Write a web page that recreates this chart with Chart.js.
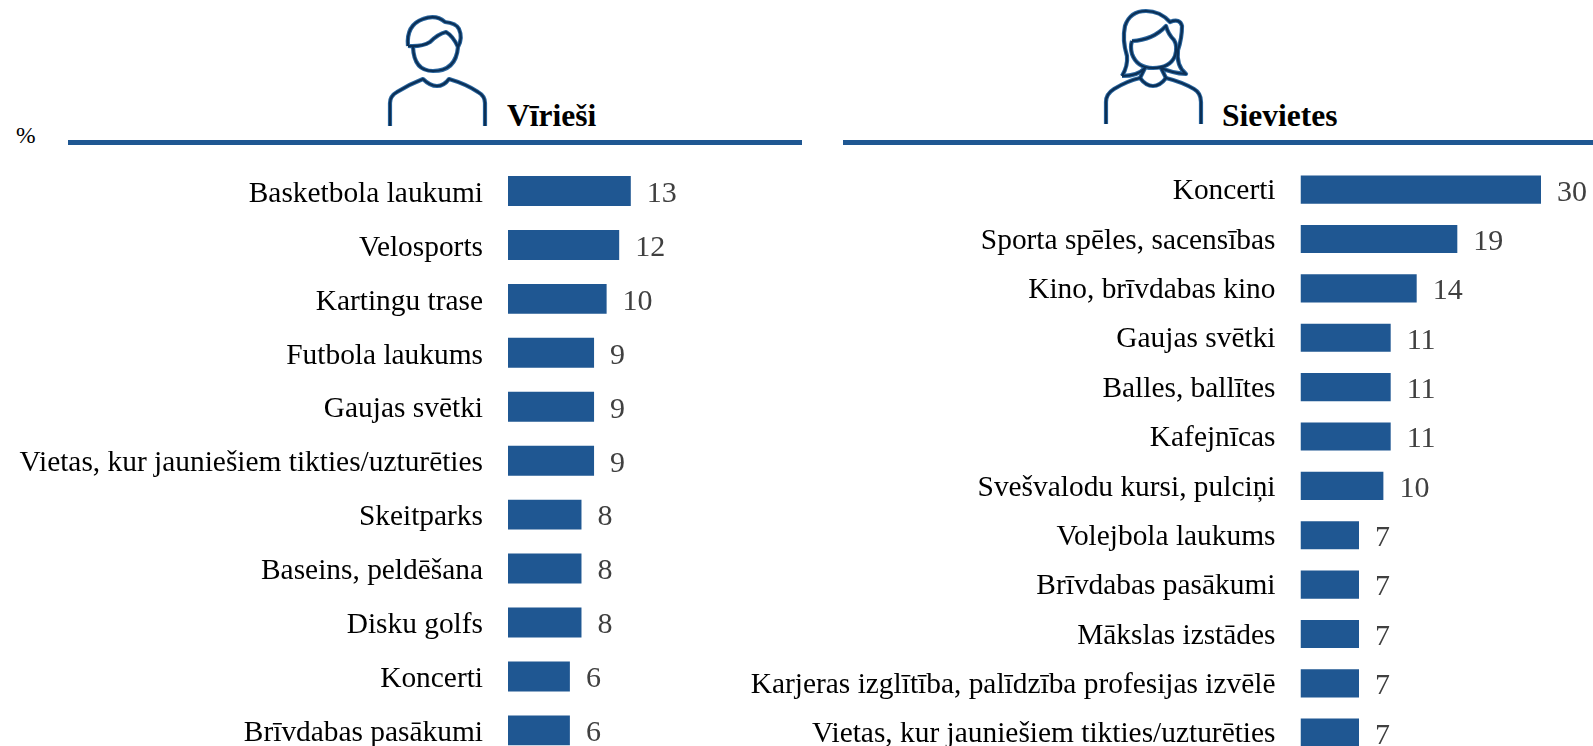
<!DOCTYPE html>
<html lang="lv">
<head>
<meta charset="utf-8">
<script src="https://cdn.jsdelivr.net/npm/chart.js@4/dist/chart.umd.min.js"></script>
<style>
html,body{margin:0;padding:0;background:#fff;width:1593px;height:746px;overflow:hidden}
body{position:relative;font-family:"Liberation Serif",serif}
.box{position:absolute;top:0;height:800px}
.rule{position:absolute;top:140px;height:5px;background:#1f5792}
.ttl{position:absolute;top:98px;font:bold 31.5px/36px "Liberation Serif",serif;color:#000}
.pct{position:absolute;left:16px;top:122px;font:23.5px/26px "Liberation Serif",serif;color:#000}
svg{position:absolute;left:0;top:0}
</style>
</head>
<body>
<svg width="1593" height="746" fill="none" stroke-linejoin="round" stroke-linecap="butt">
  <defs><g id="people">
  <path d="M390 126V103Q390 96 397 92Q410 84 423 79Q430 86 437 86Q444 86 449 79Q466 84 478 92Q485 96 485 103V126"/>
  <path d="M408 46Q406 25 423 19Q436 14 445 22Q456 23 459 29Q463 38 458 47"/>
  <path d="M408 46Q422 47 430 42Q438 34 446 32Q453 36 458 47"/>
  <path d="M413 47Q414 71 433 71Q456 71 458 47"/>
  <path d="M1106 124V102Q1106 94 1114 89Q1127 81 1140 78Q1146 86 1153 86Q1160 86 1166 78Q1182 82 1194 89Q1201 93 1201 102V124"/>
  <path d="M1122 76Q1128 66 1127 56Q1122 40 1125 26Q1130 11 1146 11Q1160 11 1170 22Q1180 18 1182 26Q1182 38 1178 50Q1176 66 1186 74Q1172 73 1161 68L1166 78"/>
  <path d="M1122 76Q1138 76 1145 68L1140 78"/>
  <path d="M1132 41Q1153 40 1166 26Q1168 34 1174 40Q1178 46 1175 56Q1170 68 1153 68Q1137 68 1132 54Q1130 47 1132 41"/>
  </g></defs>
  <use href="#people" stroke="#2a669f" stroke-width="4.2"/>
  <use href="#people" stroke="#0b2f55" stroke-width="2.2"/>
</svg>
<div class="rule" style="left:68px;width:734px"></div>
<div class="rule" style="left:843px;width:750px"></div>
<div class="ttl" style="left:507px">Vīrieši</div>
<div class="ttl" style="left:1222px">Sievietes</div>
<div class="pct">%</div>
<div class="box" style="left:0;width:800px"><canvas id="men"></canvas></div>
<div class="box" style="left:740px;width:853px"><canvas id="women"></canvas></div>
<script>
const menCategories = ["Basketbola laukumi","Velosports","Kartingu trase","Futbola laukums","Gaujas svētki","Vietas, kur jauniešiem tikties/uzturēties","Skeitparks","Baseins, peldēšana","Disku golfs","Koncerti","Brīvdabas pasākumi"];
const menValues = [12.7,11.5,10.2,8.9,8.9,8.9,7.6,7.6,7.6,6.4,6.4];
const womenCategories = ["Koncerti","Sporta spēles, sacensības","Kino, brīvdabas kino","Gaujas svētki","Balles, ballītes","Kafejnīcas","Svešvalodu kursi, pulciņi","Volejbola laukums","Brīvdabas pasākumi","Mākslas izstādes","Karjeras izglītība, palīdzība profesijas izvēlē","Vietas, kur jauniešiem tikties/uzturēties"];
const womenValues = [29.6,19.3,14.3,11.1,11.1,11.1,10.2,7.2,7.2,7.2,7.2,7.2];
const barColor = "#1f5792";
const serif = '"Liberation Serif", serif';

const valueLabels = {
  id: "valueLabels",
  afterDatasetsDraw(chart) {
    const ctx = chart.ctx, ds = chart.data.datasets[0];
    ctx.save();
    ctx.font = "30px " + serif;
    ctx.fillStyle = "#404040";
    ctx.textAlign = "left";
    ctx.textBaseline = "middle";
    chart.getDatasetMeta(0).data.forEach((bar, i) => {
      ctx.fillText(String(Math.round(ds.data[i])), bar.x + 16, bar.y + 3);
    });
    ctx.restore();
  }
};

function build(id, categories, values, cfg) {
  new Chart(document.getElementById(id), {
    type: "bar",
    data: { labels: categories, datasets: [{ data: values, backgroundColor: barColor, borderWidth: 0, categoryPercentage: 1, barPercentage: cfg.bar }] },
    plugins: [valueLabels],
    options: {
      indexAxis: "y", responsive: true, maintainAspectRatio: false, animation: false,
      layout: { padding: { top: cfg.top, bottom: cfg.bottom, left: 0, right: 0 } },
      plugins: { legend: { display: false }, tooltip: { enabled: false } },
      scales: {
        x: { display: false, min: 0, max: cfg.max },
        y: {
          border: { display: false }, grid: { display: false, drawTicks: false },
          afterFit(s) {
            s.width = cfg.axisW;
            if (!s._shifted) {
              s._shifted = true;
              const orig = s._computeLabelItems;
              s._computeLabelItems = function (area) {
                const items = orig.call(this, area);
                items.forEach(it => { it.options.translation[1] += cfg.textDy; });
                return items;
              };
            }
          },
          ticks: { color: "#000", padding: 25, font: { family: serif, size: 29.4 }, autoSkip: false }
        }
      }
    }
  });
}
build("men", menCategories, menValues, { top: 164, bottom: 42, max: 30.2, axisW: 508, bar: 0.555, textDy: 3 });
build("women", womenCategories, womenValues, { top: 165, bottom: 42, max: 36, axisW: 560.5, bar: 0.57, textDy: 2 });
</script>
</body>
</html>
